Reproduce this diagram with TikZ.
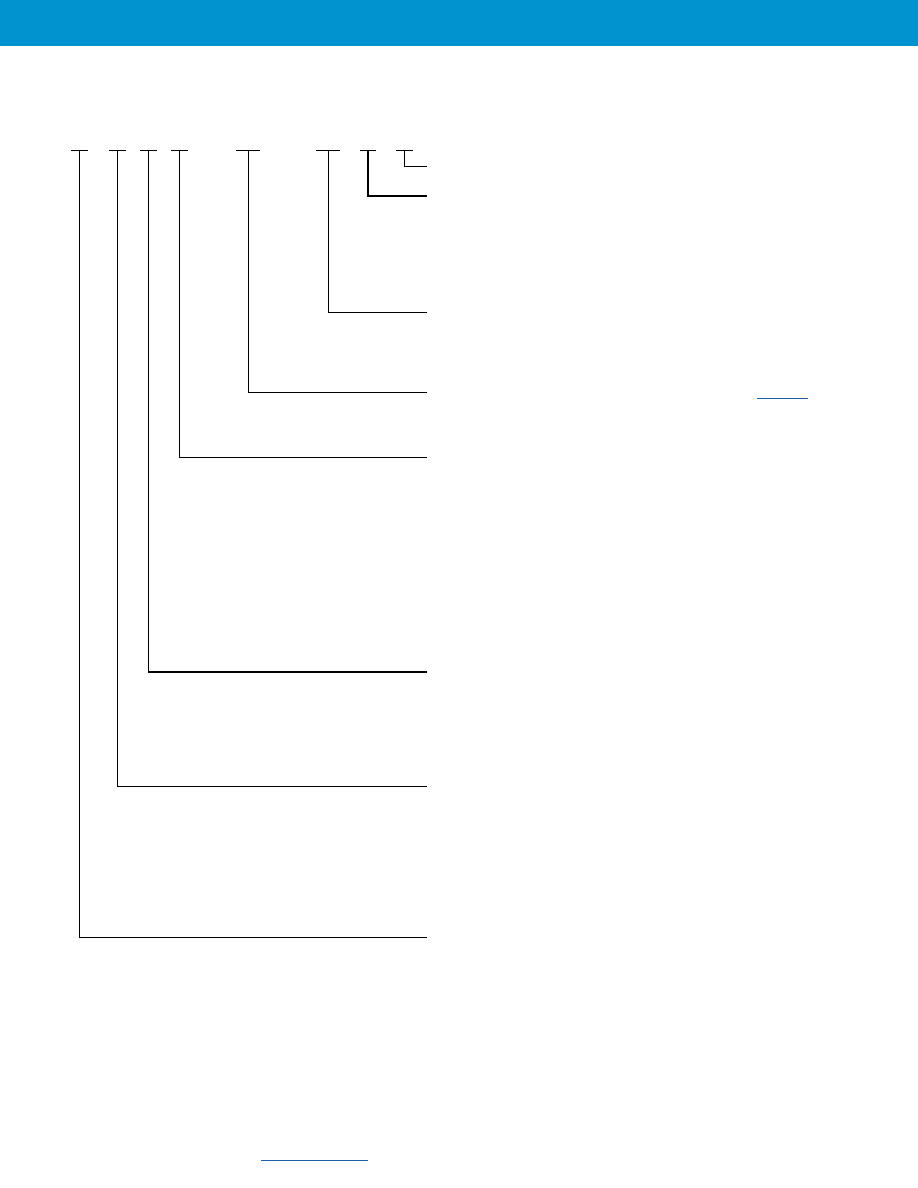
\documentclass[tikz,border=0pt]{standalone}
\definecolor{headerblue}{RGB}{0,147,208}
\definecolor{linkblue}{RGB}{31,95,168}
\begin{document}
\begin{tikzpicture}[x = 1bp, y = -1bp, field/.style = {line width = 0.9pt}, thick field/.style = {line width = 1.6pt}, link/.style = {linkblue, line width = 1pt}]
        \useasboundingbox (0, 0) rectangle (918, 1188);
        \fill[headerblue] (0, 0) rectangle (918, 46);
        \foreach \name/\x/\half/\y/\style in {a/79.3/8.2/937/field, b/117.3/8.3/786.5/thick field, c/148.5/8.3/672/thick field, d/179.3/8.3/457/field, e/248.3/12/392/field, f/328.3/12/312.5/field, g/367.8/8/195.7/thick field, h/404.3/8.3/166/field} {
            \coordinate (\name top) at (\x, 150);
            \coordinate (\name end) at (427, \y);
            \draw[field] ([xshift = -\half bp]\name top) -- ([xshift = \half bp]\name top);
            \draw[\style] (\name top) |- (\name end);
        }
        \coordinate (link a start) at (757, 398.3);
        \coordinate (link a end) at (808, 398.3);
        \coordinate (link b start) at (261, 1160.3);
        \coordinate (link b end) at (368, 1160.3);
        \draw[link] (link a start) -- (link a end);
        \draw[link] (link b start) -- (link b end);
    \end{tikzpicture}
\end{document}
